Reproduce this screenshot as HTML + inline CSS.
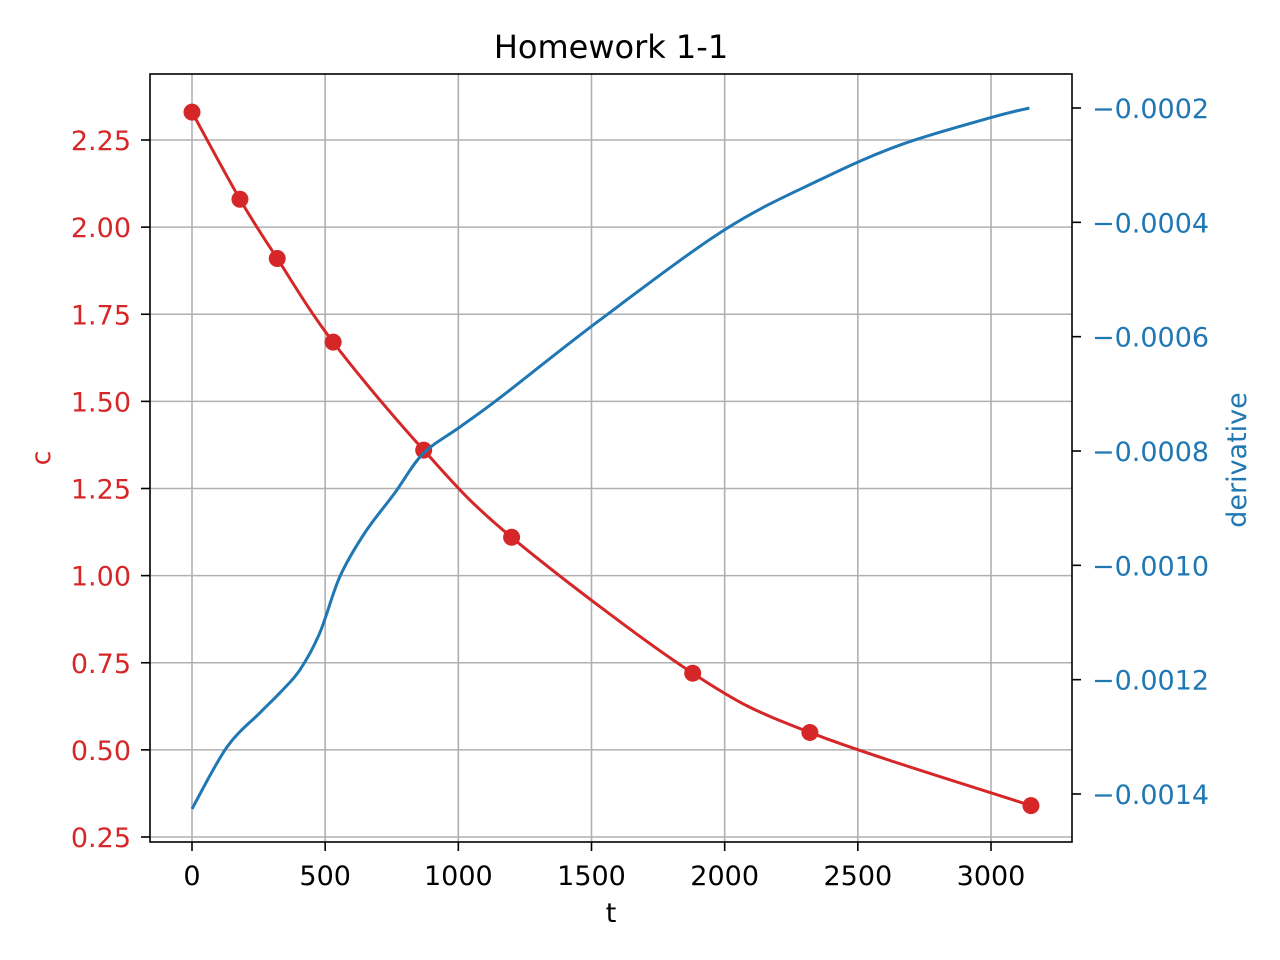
<!DOCTYPE html>
<html><head><meta charset="utf-8"><style>
body{margin:0;background:#fff}
svg{display:block;font-family:"DejaVu Sans","Liberation Sans",sans-serif}
</style></head><body>
<svg id="chart" width="1280" height="960"></svg>
<script>
const tTicks=[0,500,1000,1500,2000,2500,3000];
const cTicks=[0.25,0.5,0.75,1.0,1.25,1.5,1.75,2.0,2.25];
const dTicks=[-0.0014,-0.0012,-0.0010,-0.0008,-0.0006,-0.0004,-0.0002];
const obsT=[0,180,320,530,870,1200,1880,2320,3150];
const obsC=[2.33,2.08,1.91,1.67,1.36,1.11,0.72,0.55,0.34];
const derT=[0,131,255,330,405,480,555,649,762,867,1006,1156,1531,2000,2356,2657,2998,3144];
const derV=[-0.001426,-0.001318,-0.001258,-0.001223,-0.001183,-0.001118,-0.001020,-0.000943,-0.000873,-0.000805,-0.000758,-0.000707,-0.000571,-0.000413,-0.000326,-0.000265,-0.000217,-0.0002];

const L=150,R=1072,T=74,B=842;
const xS=t=>192+t*(991-192)/3000;
const yC=c=>837-(c-0.25)*(837-140)/2.0;
const yD=d=>794-(d+0.0014)*(794-108)/0.0012;
const svg=document.getElementById('chart');
const NS='http://www.w3.org/2000/svg';
function mk(tag,attrs,parent){const e=document.createElementNS(NS,tag);for(const k in attrs)e.setAttribute(k,attrs[k]);(parent||svg).appendChild(e);return e;}
function spline(pts){let d=`M${pts[0][0]},${pts[0][1]}`;for(let i=0;i<pts.length-1;i++){const p0=pts[Math.max(i-1,0)],p1=pts[i],p2=pts[i+1],p3=pts[Math.min(i+2,pts.length-1)];const c1=[p1[0]+(p2[0]-p0[0])/6,p1[1]+(p2[1]-p0[1])/6],c2=[p2[0]-(p3[0]-p1[0])/6,p2[1]-(p3[1]-p1[1])/6];d+=`C${c1[0]},${c1[1]} ${c2[0]},${c2[1]} ${p2[0]},${p2[1]}`;}return d;}

tTicks.forEach(t=>{const g=mk('line',{x1:xS(t),x2:xS(t),y1:T,y2:B,stroke:'#b0b0b0','stroke-width':1.6});
});
cTicks.forEach(c=>{const g=mk('line',{x1:L,x2:R,y1:yC(c),y2:yC(c),stroke:'#b0b0b0','stroke-width':1.6});
});

const rc=mk('path',{d:spline(obsT.map((t,i)=>[xS(t),yC(obsC[i])])),fill:'none',stroke:'#d62728','stroke-width':3});

obsT.forEach((t,i)=>{const p=mk('circle',{cx:xS(t),cy:yC(obsC[i]),r:8.5,fill:'#d62728'});
});
const bc=mk('path',{d:spline(derT.map((t,i)=>[xS(t),yD(derV[i])])),fill:'none',stroke:'#1f77b4','stroke-width':3});


const fr=mk('rect',{x:L,y:T,width:R-L,height:B-T,fill:'none',stroke:'#000','stroke-width':1.6});


tTicks.forEach(t=>{mk('line',{x1:xS(t),x2:xS(t),y1:B,y2:B+9,stroke:'#000','stroke-width':1.6});
const tx=mk('text',{x:xS(t),y:885,'text-anchor':'middle','font-size':27,fill:'#000'});tx.textContent=t;
});
cTicks.forEach(c=>{mk('line',{x1:L-9,x2:L,y1:yC(c),y2:yC(c),stroke:'#000','stroke-width':1.6});
const tx=mk('text',{x:L-19,y:yC(c)+10,'text-anchor':'end','font-size':27,fill:'#d62728'});tx.textContent=c.toFixed(2);
});
dTicks.forEach(d=>{mk('line',{x1:R,x2:R+9,y1:yD(d),y2:yD(d),stroke:'#000','stroke-width':1.6});
const tx=mk('text',{x:R+20,y:yD(d)+10,'font-size':27,fill:'#1f77b4'});tx.textContent='\u2212'+Math.abs(d).toFixed(4);
});

let e=mk('text',{x:611,y:58,'text-anchor':'middle','font-size':32,fill:'#000'});e.textContent='Homework 1-1';

e=mk('text',{x:611,y:922,'text-anchor':'middle','font-size':27,fill:'#000'});e.textContent='t';

e=mk('text',{x:0,y:0,'text-anchor':'middle','font-size':27,fill:'#d62728',transform:'translate(50,458) rotate(-90)'});e.textContent='c';

e=mk('text',{x:0,y:0,'text-anchor':'middle','font-size':27,fill:'#1f77b4',transform:'translate(1246,460) rotate(-90)'});e.textContent='derivative';

</script>
</body></html>
